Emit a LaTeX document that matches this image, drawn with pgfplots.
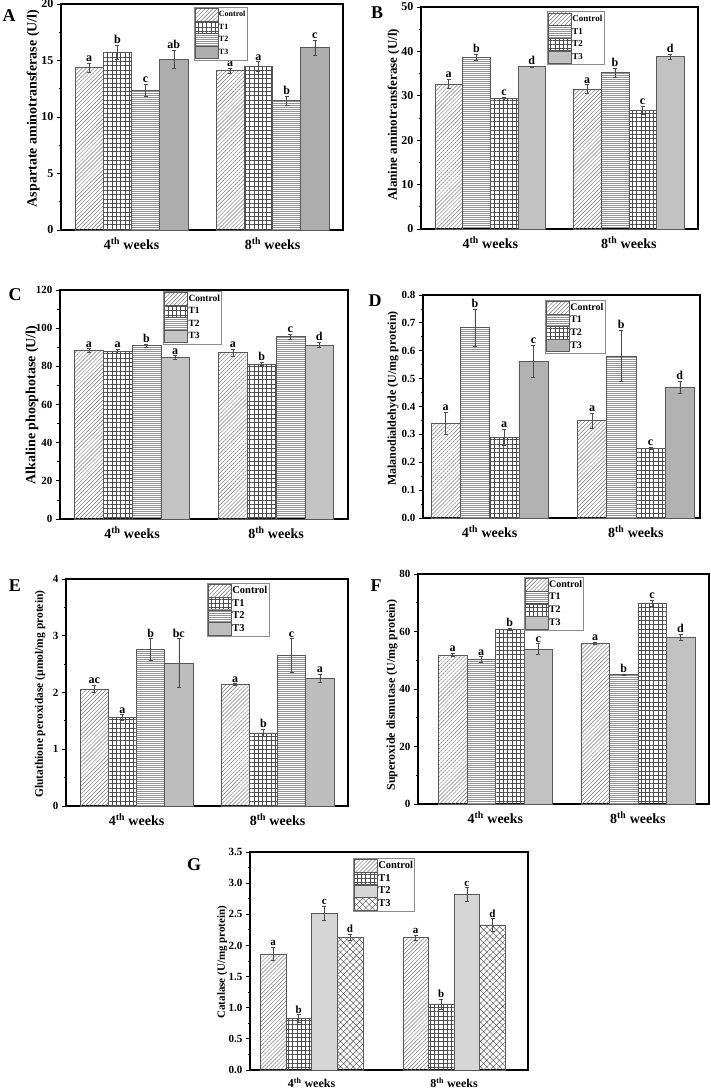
\documentclass[border=0pt]{standalone}
\usepackage{pgfplots}
\pgfplotsset{compat=1.18}
\usetikzlibrary{patterns.meta}
\usepackage{fontspec}
\setmainfont{Liberation Serif}

\tikzset{
 pctrl/.style={pattern={Lines[angle=45,distance=2.8pt,line width=0.45pt]},pattern color=black!55},
 pgrid/.style={pattern={Hatch[angle=0,distance=4.3pt,line width=0.4pt]},pattern color=black!70},
 phor/.style={pattern={Lines[angle=0,distance=2pt,line width=0.5pt]},pattern color=black!42},
 pcross/.style={pattern={Hatch[angle=45,distance=4.5pt,line width=0.4pt]},pattern color=black!70},
}
\newcommand{\fs}[1]{\rmfamily\bfseries\fontsize{#1}{#1}\selectfont}

\pgfplotsset{
 myaxis/.style={
   scale only axis, anchor=south west,
   xmin=-0.5, xmax=1.5, ymin=0,
   xtick={0,1}, xticklabels={4\textsuperscript{th} weeks, 8\textsuperscript{th} weeks},
   x tick style={draw=none},
   ytick pos=left, tick align=outside,
   minor y tick num=1,
   major tick length=4pt, minor tick length=2.5pt,
   y tick style={black, line width=0.8pt},
   axis line style={line width=1.1pt},
   /pgf/number format/assume math mode=true,
   yticklabel style={font=\fs{11}},
   xticklabel style={font=\fs{14}},
   legend cell align=left,
   legend style={draw=black!45, line width=0.6pt, inner sep=1pt, row sep=-0.3pt, anchor=north west, nodes={inner sep=0.6pt}},
   legend image code/.code={\draw[##1] (0pt,-0.62em) rectangle (2.3em,0.62em);},
   clip=false,
 },
 bar/.style={ybar, bar width=#1, bar shift=0pt, draw=black!65, line width=0.5pt,
   error bars/y dir=both, error bars/y explicit,
   error bars/error bar style={line width=0.5pt, black!70},
   error bars/error mark options={rotate=90, mark size=2pt, line width=0.5pt, black!70}},
 bar/.default=0.2,
 lbl/.style={only marks, mark=none, nodes near coords, point meta=explicit symbolic, forget plot,
   every node near coord/.append style={anchor=south, inner sep=1.2pt, font=\fs{#1}, black}},
 lbl/.default=12,
}

\begin{document}
\begin{tikzpicture}
\path[use as bounding box] (0,0) rectangle (711pt,-1089pt);

% ---------------- A ----------------
\begin{axis}[myaxis, at={(61pt,-230pt)}, width=282pt, height=226pt,
  ymax=20, ytick={0,5,...,20},
  yticklabel style={font=\fs{12}},
  ylabel={Aspartate aminotransferase (U/l)},
  ylabel style={at={(axis description cs:-0.099,0.538)}, anchor=center, font=\fs{14}},
  xticklabels={4\textsuperscript{th} weeks, \raisebox{-5pt}{8\textsuperscript{th} weeks}},
  legend style={at={(axis description cs:0.47,0.987)}, font=\fs{8}}]
\addplot[bar, pctrl] coordinates {(-0.3,14.37) +- (0,0.40) (0.7,14.10) +- (0,0.22)};
\addlegendentry{Control}
\addplot[bar, pgrid] coordinates {(-0.1,15.72) +- (0,0.63) (0.9,14.48) +- (0,0.43)};
\addlegendentry{T1}
\addplot[bar, phor] coordinates {(0.1,12.36) +- (0,0.53) (1.1,11.47) +- (0,0.41)};
\addlegendentry{T2}
\addplot[bar, fill=black!32] coordinates {(0.3,15.10) +- (0,0.80) (1.3,16.14) +- (0,0.66)};
\addlegendentry{T3}
\addplot[lbl] coordinates {(-0.3,14.77)[a] (-0.1,16.35)[b] (0.1,12.89)[c] (0.3,15.90)[ab]
  (0.7,14.32)[a] (0.9,14.91)[a] (1.1,11.88)[b] (1.3,16.80)[c]};
\end{axis}

% ---------------- B ----------------
\begin{axis}[myaxis, at={(421pt,-229pt)}, width=277pt, height=222pt,
  ymax=50, ytick={0,10,...,50},
  yticklabel style={font=\fs{12}},
  ylabel={Alanine aminotransferase (U/l)},
  ylabel style={at={(axis description cs:-0.099,0.514)}, anchor=center, font=\fs{13}},
  legend style={at={(axis description cs:0.455,0.98)}, font=\fs{9}}]
\addplot[bar, pctrl] coordinates {(-0.3,32.70) +- (0,1.0) (0.7,31.50) +- (0,1.0)};
\addlegendentry{Control}
\addplot[bar, phor] coordinates {(-0.1,38.60) +- (0,0.7) (0.9,35.20) +- (0,1.0)};
\addlegendentry{T1}
\addplot[bar, pgrid] coordinates {(0.1,29.35) +- (0,0.35) (1.1,26.80) +- (0,0.95)};
\addlegendentry{T2}
\addplot[bar, fill=black!24] coordinates {(0.3,36.56) +- (0,0.2) (1.3,38.80) +- (0,0.6)};
\addlegendentry{T3}
\addplot[lbl] coordinates {(-0.3,33.70)[a] (-0.1,39.30)[b] (0.1,29.70)[c] (0.3,36.76)[d]
  (0.7,32.50)[a] (0.9,36.20)[b] (1.1,27.75)[c] (1.3,39.40)[d]};
\end{axis}

% ---------------- C ----------------
\begin{axis}[myaxis, at={(60pt,-519pt)}, width=288pt, height=229pt,
  ymax=120, ytick={0,20,...,120},
  ylabel={Alkaline phosphotase (U/l)},
  ylabel style={at={(axis description cs:-0.097,0.498)}, anchor=center, font=\fs{14}},
  xticklabels={4\textsuperscript{th} weeks, \raisebox{-3pt}{8\textsuperscript{th} weeks}},
  legend style={at={(axis description cs:0.358,0.996)}, font=\fs{9.5}}]
\addplot[bar, pctrl] coordinates {(-0.3,88.3) +- (0,1.0) (0.7,87.2) +- (0,2.0)};
\addlegendentry{Control}
\addplot[bar, pgrid] coordinates {(-0.1,87.9) +- (0,1.3) (0.9,81.3) +- (0,0.8)};
\addlegendentry{T1}
\addplot[bar, phor] coordinates {(0.1,90.9) +- (0,0.7) (1.1,95.6) +- (0,1.2)};
\addlegendentry{T2}
\addplot[bar, fill=black!23] coordinates {(0.3,84.6) +- (0,1.0) (1.3,91.3) +- (0,1.2)};
\addlegendentry{T3}
\addplot[lbl] coordinates {(-0.3,89.3)[a] (-0.1,89.2)[a] (0.1,91.6)[b] (0.3,85.6)[a]
  (0.7,89.2)[a] (0.9,82.1)[b] (1.1,96.8)[c] (1.3,92.5)[d]};
\end{axis}

% ---------------- D ----------------
\begin{axis}[myaxis, at={(423pt,-518pt)}, width=277pt, height=223pt,
  xmin=-0.455, xmax=1.438,
  ymax=0.8, ytick={0,0.1,...,0.8},
  y tick label style={/pgf/number format/fixed, /pgf/number format/fixed zerofill, /pgf/number format/precision=1},
  ylabel={Malanodialdehyde (U/mg protein)},
  ylabel style={at={(axis description cs:-0.108,0.536)}, anchor=center, font=\fs{12}},
  legend style={at={(axis description cs:0.44,0.978)}, font=\fs{10}}]
\addplot[bar, pctrl] coordinates {(-0.3,0.341) +- (0,0.040) (0.7,0.350) +- (0,0.027)};
\addlegendentry{Control}
\addplot[bar, phor] coordinates {(-0.1,0.683) +- (0,0.067) (0.9,0.582) +- (0,0.092)};
\addlegendentry{T1}
\addplot[bar, pgrid] coordinates {(0.1,0.290) +- (0,0.030) (1.1,0.250) +- (0,0.005)};
\addlegendentry{T2}
\addplot[bar, fill=black!30] coordinates {(0.3,0.562) +- (0,0.058) (1.3,0.470) +- (0,0.022)};
\addlegendentry{T3}
\addplot[lbl] coordinates {(-0.3,0.381)[a] (-0.1,0.750)[b] (0.1,0.320)[a] (0.3,0.620)[c]
  (0.7,0.377)[a] (0.9,0.674)[b] (1.1,0.255)[c] (1.3,0.492)[d]};
\end{axis}

% ---------------- E ----------------
\begin{axis}[myaxis, at={(66pt,-806pt)}, width=282pt, height=227pt,
  ymax=4, ytick={0,1,...,4},
  ylabel={Glutathione peroxidase (µmol/mg protein)},
  ylabel style={at={(axis description cs:-0.092,0.493)}, anchor=center, font=\fs{11.5}},
  legend style={at={(axis description cs:0.5,0.982)}, font=\fs{10.5}}]
\addplot[bar, pctrl] coordinates {(-0.3,2.065) +- (0,0.06) (0.7,2.14) +- (0,0.015)};
\addlegendentry{Control}
\addplot[bar, pgrid] coordinates {(-0.1,1.56) +- (0,0.05) (0.9,1.29) +- (0,0.06)};
\addlegendentry{T1}
\addplot[bar, phor] coordinates {(0.1,2.76) +- (0,0.19) (1.1,2.65) +- (0,0.30)};
\addlegendentry{T2}
\addplot[bar, fill=black!26] coordinates {(0.3,2.52) +- (0,0.43) (1.3,2.25) +- (0,0.07)};
\addlegendentry{T3}
\addplot[lbl] coordinates {(-0.3,2.125)[ac] (-0.1,1.61)[a] (0.1,2.95)[b] (0.3,2.95)[bc]
  (0.7,2.155)[a] (0.9,1.35)[b] (1.1,2.95)[c] (1.3,2.32)[a]};
\end{axis}

% ---------------- F ----------------
\begin{axis}[myaxis, at={(418pt,-804pt)}, width=291pt, height=230pt,
  xmin=-0.544, xmax=1.5,
  ymax=80, ytick={0,20,...,80},
  ylabel={Superoxide dismutase (U/mg protein)},
  ylabel style={at={(axis description cs:-0.089,0.474)}, anchor=center, font=\fs{12}},
  legend style={at={(axis description cs:0.363,0.987)}, font=\fs{10}}]
\addplot[bar, pctrl] coordinates {(-0.3,51.9) +- (0,0.6) (0.7,55.9) +- (0,0.5)};
\addlegendentry{Control}
\addplot[bar, phor] coordinates {(-0.1,50.3) +- (0,1.0) (0.9,45.0) +- (0,0.3)};
\addlegendentry{T1}
\addplot[bar, pgrid] coordinates {(0.1,60.75) +- (0,0.3) (1.1,69.8) +- (0,1.0)};
\addlegendentry{T2}
\addplot[bar, fill=black!24] coordinates {(0.3,54.0) +- (0,1.8) (1.3,58.1) +- (0,1.0)};
\addlegendentry{T3}
\addplot[lbl] coordinates {(-0.3,52.5)[a] (-0.1,51.3)[a] (0.1,61.05)[b] (0.3,55.8)[c]
  (0.7,56.4)[a] (0.9,45.3)[b] (1.1,70.8)[c] (1.3,59.1)[d]};
\end{axis}

% ---------------- G ----------------
\begin{axis}[myaxis, at={(250pt,-1070pt)}, width=278pt, height=218pt,
  xmin=-0.432, xmax=1.519,
  ymax=3.5, ytick={0,0.5,...,3.5},
  y tick label style={/pgf/number format/fixed, /pgf/number format/fixed zerofill, /pgf/number format/precision=1},
  ylabel={Catalase (U/mg protein)},
  ylabel style={at={(axis description cs:-0.1,0.495)}, anchor=center, font=\fs{11}},
  xticklabel style={font=\fs{12}},
  legend style={at={(axis description cs:0.37,0.972)}, font=\fs{10.5}}]
\addplot[bar=0.18, pctrl] coordinates {(-0.27,1.865) +- (0,0.11) (0.73,2.13) +- (0,0.04)};
\addlegendentry{Control}
\addplot[bar=0.18, pgrid] coordinates {(-0.09,0.83) +- (0,0.06) (0.91,1.06) +- (0,0.08)};
\addlegendentry{T1}
\addplot[bar=0.18, fill=black!16] coordinates {(0.09,2.52) +- (0,0.11) (1.09,2.82) +- (0,0.11)};
\addlegendentry{T2}
\addplot[bar=0.18, pcross] coordinates {(0.27,2.13) +- (0,0.05) (1.27,2.33) +- (0,0.10)};
\addlegendentry{T3}
\addplot[lbl=11] coordinates {(-0.27,1.975)[a] (-0.09,0.89)[b] (0.09,2.63)[c] (0.27,2.18)[d]
  (0.73,2.17)[a] (0.91,1.14)[b] (1.09,2.93)[c] (1.27,2.43)[d]};
\end{axis}

% panel letters
\node[font=\fs{18}] at (9pt,-16pt) {A};
\node[font=\fs{18}] at (377pt,-13pt) {B};
\node[font=\fs{18}] at (15pt,-295pt) {C};
\node[font=\fs{18}] at (375pt,-301pt) {D};
\node[font=\fs{18}] at (15pt,-586pt) {E};
\node[font=\fs{18}] at (376pt,-586pt) {F};
\node[font=\fs{18}] at (194pt,-865pt) {G};
\end{tikzpicture}
\end{document}
